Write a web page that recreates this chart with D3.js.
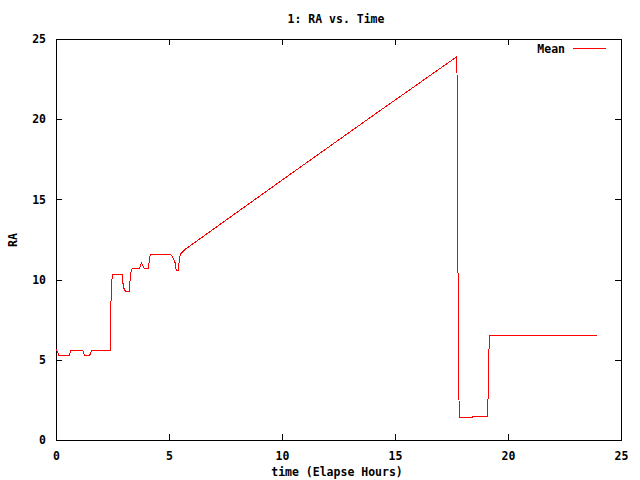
<!DOCTYPE html>
<html>
<head>
<meta charset="utf-8">
<script src="https://cdn.jsdelivr.net/npm/d3@7"></script>
<style>
  body { margin: 0; background: #fff; }
  text { font-family: "DejaVu Sans Mono", monospace; font-weight: bold; font-size: 11.5px; fill: #000; }
</style>
</head>
<body>
<svg width="640" height="480"></svg>
<script>
// elapsed hours and mean RA
var hours = [0, 0.13, 0.58, 0.66, 1.18, 1.27, 1.49, 1.58, 2.40, 2.44, 2.49, 2.93, 2.98, 3.07, 3.24, 3.30, 3.37,
  3.69, 3.78, 3.91, 4.08, 4.17, 4.97, 5.10, 5.19, 5.28, 5.32, 5.41, 5.46, 5.50, 5.59, 5.72, 10.0, 14.0, 17.74,
  17.76, 17.80, 17.84, 18.44, 18.45, 19.09, 19.12, 19.15, 19.18, 23.92];
var ra = [5.67, 5.28, 5.28, 5.59, 5.59, 5.28, 5.28, 5.59, 5.59, 9.18, 10.33, 10.33, 9.52, 9.27, 9.27, 10.39, 10.70,
  10.70, 11.02, 10.70, 10.70, 11.58, 11.58, 11.52, 11.33, 11.02, 10.58, 10.58, 11.27, 11.58, 11.70, 11.89, 16.2, 20.2, 23.9,
  18.2, 7.1, 1.41, 1.41, 1.48, 1.48, 2.74, 5.24, 6.53, 6.53];
var xTicks = [0, 5, 10, 15, 20, 25];
var yTicks = [0, 5, 10, 15, 20, 25];
var seriesName = "Mean";

var data = hours.map(function(h, i) { return { t: h, v: ra[i] }; });

var svg = d3.select("svg"),
  margin = { top: 39, right: 19, bottom: 40, left: 56 },
  width = svg.attr("width") - margin.left - margin.right,
  height = svg.attr("height") - margin.top - margin.bottom,
  g = svg.append("g").attr("transform", "translate(" + margin.left + "," + margin.top + ")");

var x = d3.scaleLinear().domain([0, 25]).range([0, width]),
  y = d3.scaleLinear().domain([0, 25]).range([height, 0]);

// frame
g.append("rect")
  .attr("x", 0).attr("y", 0)
  .attr("width", width).attr("height", height)
  .attr("fill", "none").attr("stroke", "#000")
  .attr("shape-rendering", "crispEdges");

// axes with inward ticks, mirrored on top and right
function styleAxis(sel) {
  sel.select(".domain").remove();
  sel.selectAll("line").attr("stroke", "#000").attr("shape-rendering", "crispEdges");
  sel.selectAll("text").attr("font-family", null).attr("font-size", null);
}

g.append("g")
  .attr("transform", "translate(0," + height + ")")
  .call(d3.axisBottom(x).tickValues(xTicks).tickSizeInner(-6).tickPadding(12).tickFormat(d3.format("d")))
  .call(styleAxis);

g.append("g")
  .call(d3.axisTop(x).tickValues(xTicks).tickSizeInner(-6).tickFormat(""))
  .call(styleAxis);

g.append("g")
  .call(d3.axisLeft(y).tickValues(yTicks).tickSizeInner(-6).tickPadding(10).tickFormat(d3.format("d")))
  .call(styleAxis);

g.append("g")
  .attr("transform", "translate(" + width + ",0)")
  .call(d3.axisRight(y).tickValues(yTicks).tickSizeInner(-6).tickFormat(""))
  .call(styleAxis);

// data line
var line = d3.line()
  .x(function(d) { return x(d.t); })
  .y(function(d) { return y(d.v); });

g.append("path")
  .datum(data)
  .attr("d", line)
  .attr("fill", "none")
  .attr("stroke", "#ff0000")
  .attr("stroke-width", 1)
  .attr("shape-rendering", "crispEdges");

// legend
g.append("text")
  .attr("x", 509).attr("y", 10)
  .attr("dy", "0.35em")
  .attr("text-anchor", "end")
  .text(seriesName);

g.append("line")
  .attr("x1", 517).attr("x2", 550)
  .attr("y1", 9.5).attr("y2", 9.5)
  .attr("stroke", "#ff0000")
  .attr("shape-rendering", "crispEdges");

// titles
svg.append("text")
  .attr("x", 336).attr("y", 19)
  .attr("dy", "0.35em")
  .attr("text-anchor", "middle")
  .text("1: RA vs. Time");

svg.append("text")
  .attr("x", 337).attr("y", 472)
  .attr("dy", "0.35em")
  .attr("text-anchor", "middle")
  .text("time (Elapse Hours)");

svg.append("text")
  .attr("transform", "translate(13,240) rotate(-90)")
  .attr("dy", "0.35em")
  .attr("text-anchor", "middle")
  .text("RA");
</script>
</body>
</html>
